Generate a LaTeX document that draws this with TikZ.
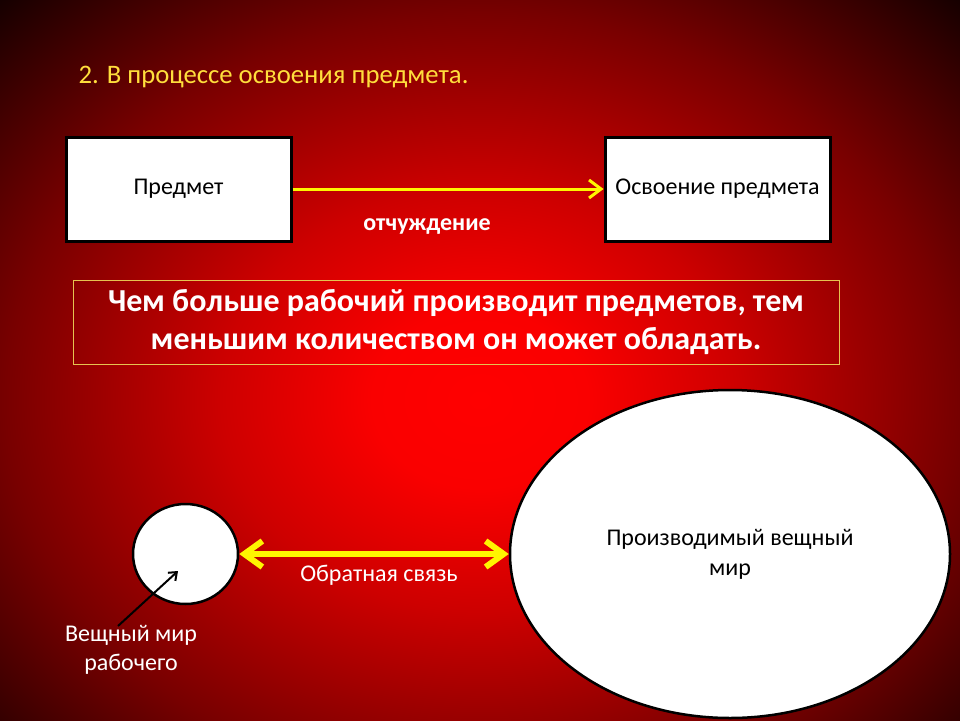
\documentclass[tikz,border=0pt]{standalone}
\usepackage{fontspec}
\setmainfont{Carlito}
\usepackage{tikz}
\usetikzlibrary{
  arrows.meta,
  shapes.geometric
}
\definecolor{fonA}{RGB}{255, 0, 0}
\definecolor{fonB}{RGB}{250, 0, 0}
\definecolor{fonC}{RGB}{205, 0, 0}
\definecolor{fonD}{RGB}{120, 0, 0}
\definecolor{fonE}{RGB}{60, 0, 0}
\definecolor{fonF}{RGB}{10, 0, 0}
\definecolor{zhelt}{RGB}{255, 245, 0}
\definecolor{titul}{RGB}{255, 222, 60}
\definecolor{zoloto}{RGB}{230, 195, 80}
\pgfdeclareradialshading{fon}{\pgfpoint{0bp}{0bp}}{%
  color(0bp)=(fonA); color(5bp)=(fonB); color(12bp)=(fonC);
  color(22bp)=(fonD); color(28bp)=(fonE); color(33bp)=(fonF); color(50bp)=(fonF)}

\begin{document}
\begin{tikzpicture}[
  x=1pt, y=-1pt,
  box/.style={draw=black, fill=white, line width=3pt, inner sep=0pt,
              minimum width=225, minimum height=104, font=\fontsize{24}{29}\selectfont},
  krug/.style={ellipse, draw=black, fill=white, line width=2.5pt, inner sep=0pt},
  beltxt/.style={text=white, align=center},
  strelka/.style={draw=zhelt, line width=3pt, -{Straight Barb[length=12pt, width=18pt]}},
  dvustr/.style={draw=zhelt, line width=6pt,
                 {Straight Barb[length=18pt, width=26pt]}-{Straight Barb[length=18pt, width=26pt]}}
]
\useasboundingbox (0,0) rectangle (960,720);
\begin{scope}
  \clip (0,0) rectangle (960,720);
  \shade[shading=fon] (-60,-40) rectangle (1020,840);
\end{scope}

\node[anchor=base west, text=titul, font=\fontsize{26.7}{32}\selectfont] (tema) at (75,83)
  {2. В процессе освоения предмета.};

\node[box] (predmet) at (178.5,189) {Предмет};
\node[box] (osvoenie) at (717.5,189) {Освоение предмета};
\draw[strelka] (predmet) -- (osvoenie);
\node[beltxt, font=\bfseries\fontsize{24}{28}\selectfont] (otch) at (427,227) {отчуждение};

\node[draw=zoloto, line width=1pt, minimum width=766, minimum height=84, inner sep=0pt,
      beltxt, font=\bfseries\fontsize{32}{38}\selectfont] (tezis) at (456,322)
  {Чем больше рабочий производит предметов, тем\\меньшим количеством он может обладать.};

\node[krug, minimum width=105, minimum height=100] (malyj) at (185.5,554) {};
\node[krug, minimum width=440, minimum height=328, align=center,
      font=\fontsize{24}{30}\selectfont] (bolshoj) at (730,554)
  {Производимый вещный\\мир};
\draw[dvustr] (malyj) -- (bolshoj);
\node[beltxt, font=\fontsize{24}{28}\selectfont] (svyaz) at (379,575) {Обратная связь};

\node[beltxt, anchor=north, font=\fontsize{24}{29}\selectfont] (podpis) at (131,622)
  {Вещный мир\\рабочего};
\coordinate (vnutri) at (178,571);
\draw[black, line width=2pt, -{Straight Barb[length=7pt, width=11pt]}]
  ([xshift=-13pt, yshift=-4pt]podpis.north) -- (vnutri);

\end{tikzpicture}
\end{document}
